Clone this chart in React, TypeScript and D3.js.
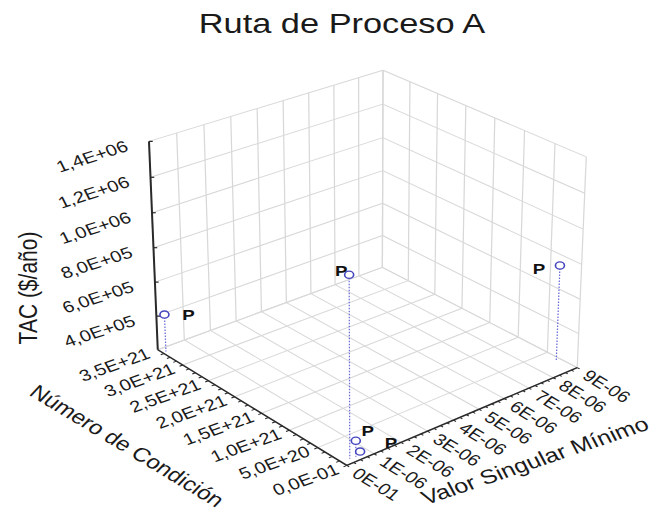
import React from 'react';
import * as d3 from 'd3';

// Chart text
const chartTitle = 'Ruta de Proceso A';
const xAxisTitle = 'Valor Singular Mínimo';
const yAxisTitle = 'Número de Condición';
const zAxisTitle = 'TAC ($/año)';

// Axis ticks and their labels
const xTickValues = [0, 1e-6, 2e-6, 3e-6, 4e-6, 5e-6, 6e-6, 7e-6, 8e-6, 9e-6];
const xTickLabels = ['0E-01', '1E-06', '2E-06', '3E-06', '4E-06', '5E-06', '6E-06', '7E-06', '8E-06', '9E-06'];
const yTickValues = [0, 5e20, 1e21, 1.5e21, 2e21, 2.5e21, 3e21, 3.5e21];
const yTickLabels = ['0,0E-01', '5,0E+20', '1,0E+21', '1,5E+21', '2,0E+21', '2,5E+21', '3,0E+21', '3,5E+21'];
const zGridValues = [2e5, 4e5, 6e5, 8e5, 1e6, 1.2e6, 1.4e6];
const zTickValues = [4e5, 6e5, 8e5, 1e6, 1.2e6, 1.4e6];
const zTickLabels = ['4,0E+05', '6,0E+05', '8,0E+05', '1,0E+06', '1,2E+06', '1,4E+06'];

// Data points
const pointNames = ['P', 'P', 'P', 'P', 'P'];
const valorSingular = [0.12e-6, 0.3e-6, 8.8e-6, 0.5e-6, 0.7e-6];
const numeroCondicion = [3.4e21, 0.09e21, 0.27e21, 0.08e21, 0.1e21];
const tac = [4.2e5, 1.2e6, 7.6e5, 2.9e5, 2.12e5];

// Screen offsets of the point captions from their markers
const captionDx = [24, -8, -21, 12, 31];
const captionDy = [1, -4, 4, -10, -8];

const W = 657;
const H = 515;
const STRETCH = 1.25; // horizontal stretch of the whole drawing

// Box size in world units and camera
const LX = 303, LY = 305, LZ = 232;
const AZ = (40 * Math.PI) / 180;
const EL = (25.5 * Math.PI) / 180;
const DIST = 2400;
const CX = 366, CY = 256;

const xs = d3.scaleLinear().domain([0, 9e-6]).range([-LX / 2, LX / 2]);
const ys = d3.scaleLinear().domain([0, 3.5e21]).range([-LY / 2, LY / 2]);
const zs = d3.scaleLinear().domain([2e5, 1.4e6]).range([-LZ / 2, LZ / 2]);

const X0 = 0, X1 = 9e-6, Y0 = 0, Y1 = 3.5e21, Z0 = 2e5, Z1 = 1.4e6;

function projectWorld(X: number, Y: number, Z: number): [number, number] {
  const sx = X * Math.cos(AZ) - Y * Math.sin(AZ);
  const d = X * Math.sin(AZ) + Y * Math.cos(AZ);
  const up = Z * Math.cos(EL) + d * Math.sin(EL);
  const depth = d * Math.cos(EL) - Z * Math.sin(EL);
  const k = DIST / (DIST + depth);
  return [(CX + sx * k) / STRETCH, CY - up * k];
}

const P = (x: number, y: number, z: number) => projectWorld(xs(x), ys(y), zs(z));

const line = d3.line<[number, number]>();

function seg(a: [number, number], b: [number, number]) {
  return line([a, b]) as string;
}

const FONT = '"Liberation Sans", Arial, sans-serif';
const GRID = '#d8d8d8';
const AXIS = '#2a2a2a';
const TEXT = '#1a1a1a';

export default function App() {
  const grid: string[] = [];
  // floor grid
  xTickValues.forEach((x) => grid.push(seg(P(x, Y0, Z0), P(x, Y1, Z0))));
  yTickValues.forEach((y) => grid.push(seg(P(X0, y, Z0), P(X1, y, Z0))));
  // back-left wall (y = max)
  xTickValues.forEach((x) => grid.push(seg(P(x, Y1, Z0), P(x, Y1, Z1))));
  zGridValues.forEach((z) => grid.push(seg(P(X0, Y1, z), P(X1, Y1, z))));
  // back-right wall (x = max)
  yTickValues.forEach((y) => grid.push(seg(P(X1, y, Z0), P(X1, y, Z1))));
  zGridValues.forEach((z) => grid.push(seg(P(X1, Y0, z), P(X1, Y1, z))));

  const zAxisLine = seg(P(X0, Y1, Z0), P(X0, Y1, Z1));
  const xAxisLine = seg(P(X0, Y0, Z0), P(X1, Y0, Z0));
  const yAxisLine = seg(P(X0, Y0, Z0), P(X0, Y1, Z0));

  const minorX = d3.range(0, 9e-6 + 1e-12, 0.25e-6);
  const minorY = d3.range(0, 3.5e21 + 1, 0.125e21);

  return (
    <svg
      width={W}
      height={H}
      style={{ position: 'absolute', left: 0, top: 0, background: '#fff' }}
    >
      <g transform={`scale(${STRETCH},1)`}>
        <text
          x={342 / STRETCH}
          y={33}
          textAnchor="middle"
          fontFamily={FONT}
          fontSize={27.5}
          fill={TEXT}
        >
          {chartTitle}
        </text>

        {grid.map((d, i) => (
          <path key={'g' + i} d={d} stroke={GRID} strokeWidth={1} fill="none" />
        ))}

        {/* axes */}
        <path d={zAxisLine} stroke={AXIS} strokeWidth={1.6} fill="none" />
        <path d={xAxisLine} stroke={AXIS} strokeWidth={1.4} fill="none" />
        <path d={yAxisLine} stroke={AXIS} strokeWidth={1.4} fill="none" />

        {zTickValues.map((z, i) => {
          const p = P(X0, Y1, z);
          return (
            <g key={'zt' + i}>
              <path d={seg(p, [p[0] + 3, p[1]])} stroke={AXIS} strokeWidth={1.2} />
              <text
                transform={`translate(${p[0] - 22 / STRETCH},${p[1] + 4}) rotate(-22)`}
                textAnchor="end"
                dominantBaseline="central"
                fontFamily={FONT}
                fontSize={16}
                fill={TEXT}
              >
                {zTickLabels[i]}
              </text>
            </g>
          );
        })}

        {minorX.map((x, i) => {
          const a = P(x, Y0, Z0);
          const b = P(x, -0.04e21, Z0);
          return <path key={'mx' + i} d={seg(a, b)} stroke={AXIS} strokeWidth={1} />;
        })}
        {minorY.map((y, i) => {
          const a = P(X0, y, Z0);
          const b = P(-0.12e-6, y, Z0);
          return <path key={'my' + i} d={seg(a, b)} stroke={AXIS} strokeWidth={1} />;
        })}

        {xTickValues.map((x, i) => {
          const p = P(x, Y0, Z0);
          return (
            <text
              key={'xt' + i}
              transform={`translate(${p[0] + 8 / STRETCH},${p[1] + 6}) rotate(37)`}
              textAnchor="start"
              dominantBaseline="central"
              fontFamily={FONT}
              fontSize={16}
              fill={TEXT}
            >
              {xTickLabels[i]}
            </text>
          );
        })}

        {yTickValues.map((y, i) => {
          const p = P(X0, y, Z0);
          return (
            <text
              key={'yt' + i}
              transform={`translate(${p[0] - 9 / STRETCH},${p[1] + 3}) rotate(-24)`}
              textAnchor="end"
              dominantBaseline="central"
              fontFamily={FONT}
              fontSize={16}
              fill={TEXT}
            >
              {yTickLabels[i]}
            </text>
          );
        })}

        {/* axis titles */}
        <text
          transform={`translate(${28 / STRETCH},288) rotate(-90)`}
          textAnchor="middle"
          dominantBaseline="central"
          fontFamily={FONT}
          fontSize={21}
          fill={TEXT}
        >
          {zAxisTitle}
        </text>
        <text
          transform={`translate(${127 / STRETCH},446) rotate(37)`}
          textAnchor="middle"
          dominantBaseline="central"
          fontFamily={FONT}
          fontSize={19.5}
          fill={TEXT}
        >
          {yAxisTitle}
        </text>
        <text
          transform={`translate(${535 / STRETCH},461) rotate(-23)`}
          textAnchor="middle"
          dominantBaseline="central"
          fontFamily={FONT}
          fontSize={20}
          fill={TEXT}
        >
          {xAxisTitle}
        </text>

        {/* drop lines, markers and captions */}
        {tac.map((z, i) => {
          const top = P(valorSingular[i], numeroCondicion[i], z);
          const base = P(valorSingular[i], numeroCondicion[i], Z0);
          return (
            <path
              key={'dl' + i}
              d={seg(top, base)}
              stroke="#6a6ad8"
              strokeWidth={1}
              strokeDasharray="1.5,1.5"
              fill="none"
            />
          );
        })}
        {tac.map((z, i) => {
          const p = P(valorSingular[i], numeroCondicion[i], z);
          return (
            <g key={'pt' + i}>
              <circle cx={p[0]} cy={p[1]} r={3.6} fill="#fff" stroke="#4646c0" strokeWidth={1.3} />
              <text
                x={p[0] + captionDx[i] / STRETCH}
                y={p[1] + captionDy[i]}
                textAnchor="middle"
                dominantBaseline="central"
                fontFamily={FONT}
                fontSize={15}
                fontWeight="bold"
                fill="#111"
              >
                {pointNames[i]}
              </text>
            </g>
          );
        })}
      </g>
    </svg>
  );
}
